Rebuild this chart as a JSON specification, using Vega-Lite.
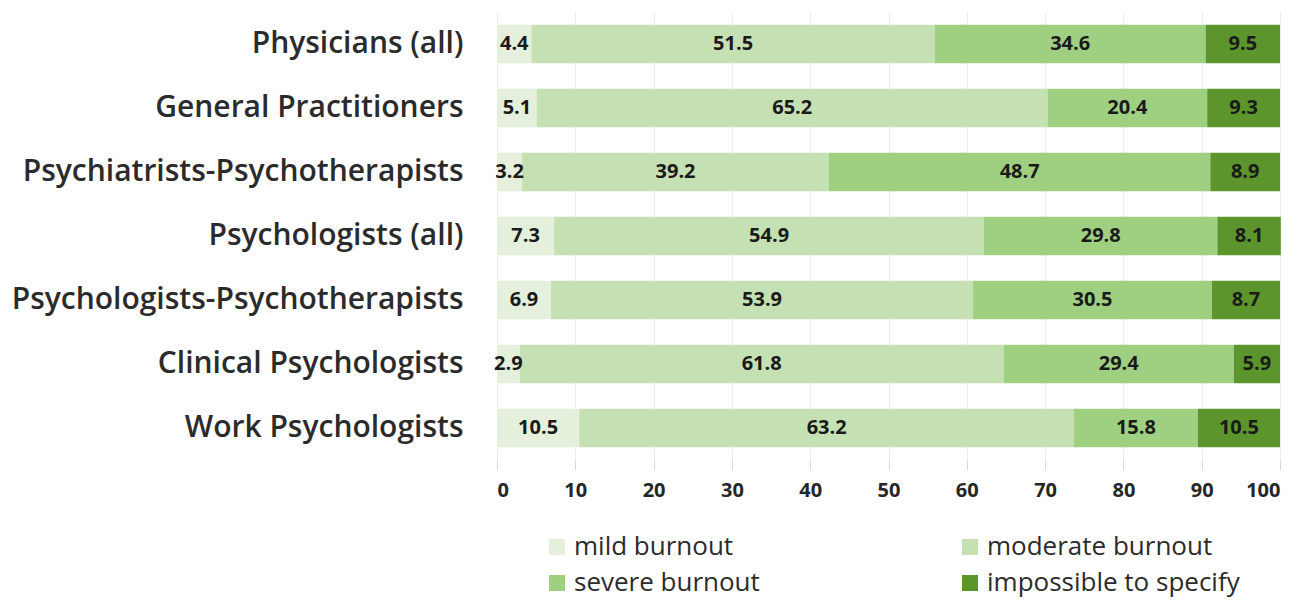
{
  "$schema": "https://vega.github.io/schema/vega-lite/v6.json",
  "width": 783,
  "height": 448,
  "autosize": "none",
  "padding": {"left": 497, "top": 12, "right": 23, "bottom": 144},
  "background": "white",
  "config": {"view": {"stroke": null}, "font": "Open Sans"},
  "data": {"values": [
    {"group": "Physicians (all)", "cat": "mild burnout", "o": 1, "v": 4.4},
    {"group": "Physicians (all)", "cat": "moderate burnout", "o": 2, "v": 51.5},
    {"group": "Physicians (all)", "cat": "severe burnout", "o": 3, "v": 34.6},
    {"group": "Physicians (all)", "cat": "impossible to specify", "o": 4, "v": 9.5},
    {"group": "General Practitioners", "cat": "mild burnout", "o": 1, "v": 5.1},
    {"group": "General Practitioners", "cat": "moderate burnout", "o": 2, "v": 65.2},
    {"group": "General Practitioners", "cat": "severe burnout", "o": 3, "v": 20.4},
    {"group": "General Practitioners", "cat": "impossible to specify", "o": 4, "v": 9.3},
    {"group": "Psychiatrists-Psychotherapists", "cat": "mild burnout", "o": 1, "v": 3.2},
    {"group": "Psychiatrists-Psychotherapists", "cat": "moderate burnout", "o": 2, "v": 39.2},
    {"group": "Psychiatrists-Psychotherapists", "cat": "severe burnout", "o": 3, "v": 48.7},
    {"group": "Psychiatrists-Psychotherapists", "cat": "impossible to specify", "o": 4, "v": 8.9},
    {"group": "Psychologists (all)", "cat": "mild burnout", "o": 1, "v": 7.3},
    {"group": "Psychologists (all)", "cat": "moderate burnout", "o": 2, "v": 54.9},
    {"group": "Psychologists (all)", "cat": "severe burnout", "o": 3, "v": 29.8},
    {"group": "Psychologists (all)", "cat": "impossible to specify", "o": 4, "v": 8.1},
    {"group": "Psychologists-Psychotherapists", "cat": "mild burnout", "o": 1, "v": 6.9},
    {"group": "Psychologists-Psychotherapists", "cat": "moderate burnout", "o": 2, "v": 53.9},
    {"group": "Psychologists-Psychotherapists", "cat": "severe burnout", "o": 3, "v": 30.5},
    {"group": "Psychologists-Psychotherapists", "cat": "impossible to specify", "o": 4, "v": 8.7},
    {"group": "Clinical Psychologists", "cat": "mild burnout", "o": 1, "v": 2.9},
    {"group": "Clinical Psychologists", "cat": "moderate burnout", "o": 2, "v": 61.8},
    {"group": "Clinical Psychologists", "cat": "severe burnout", "o": 3, "v": 29.4},
    {"group": "Clinical Psychologists", "cat": "impossible to specify", "o": 4, "v": 5.9},
    {"group": "Work Psychologists", "cat": "mild burnout", "o": 1, "v": 10.5},
    {"group": "Work Psychologists", "cat": "moderate burnout", "o": 2, "v": 63.2},
    {"group": "Work Psychologists", "cat": "severe burnout", "o": 3, "v": 15.8},
    {"group": "Work Psychologists", "cat": "impossible to specify", "o": 4, "v": 10.5}
  ]},
  "transform": [
    {"stack": "v", "groupby": ["group"], "sort": [{"field": "o"}], "as": ["x0", "x1"]},
    {"calculate": "(datum.x0 + datum.x1) / 2", "as": "xm"}
  ],
  "encoding": {
    "y": {
      "field": "group", "type": "nominal",
      "sort": ["Physicians (all)", "General Practitioners", "Psychiatrists-Psychotherapists", "Psychologists (all)", "Psychologists-Psychotherapists", "Clinical Psychologists", "Work Psychologists"],
      "scale": {"paddingInner": 0.4, "paddingOuter": 0.2},
      "axis": {"title": null, "ticks": false, "domain": false, "labelPadding": 34, "labelFontSize": 30, "labelFontWeight": 600, "labelColor": "#2b2b2b", "labelFont": "Open Sans", "labelLimit": 500}
    }
  },
  "layer": [
    {
      "mark": {"type": "bar"},
      "encoding": {
        "x": {"field": "x0", "type": "quantitative", "scale": {"domain": [0, 100], "nice": false},
          "axis": {"title": null, "values": [0,10,20,30,40,50,60,70,80,90,100], "grid": true, "gridColor": "#ececec", "domain": false, "tickColor": "#d9d9d9", "tickSize": 10, "labelPadding": 10, "labelFontSize": 20, "labelFontWeight": "bold", "labelColor": "#262626", "labelFont": "Open Sans"}},
        "x2": {"field": "x1"},
        "color": {"field": "cat", "type": "nominal",
          "scale": {"domain": ["mild burnout", "moderate burnout", "severe burnout", "impossible to specify"], "range": ["#e4f0db", "#c5e0b3", "#9fcf80", "#5b952c"]},
          "legend": {"title": null, "orient": "none", "legendX": 47, "legendY": 522, "direction": "horizontal", "columns": 2, "columnPadding": 197, "rowPadding": 10, "labelOffset": 4, "symbolType": "square", "symbolSize": 256, "symbolStrokeWidth": 0, "labelFontSize": 26, "labelColor": "#2b2b2b", "labelFont": "Open Sans", "labelLimit": 400}
        }
      }
    },
    {
      "mark": {"type": "text", "fontSize": 20, "fontWeight": "bold", "color": "#1a1a1a", "font": "Open Sans"},
      "encoding": {
        "x": {"field": "xm", "type": "quantitative"},
        "text": {"field": "v", "type": "quantitative", "format": ".1f"}
      }
    }
  ]
}
